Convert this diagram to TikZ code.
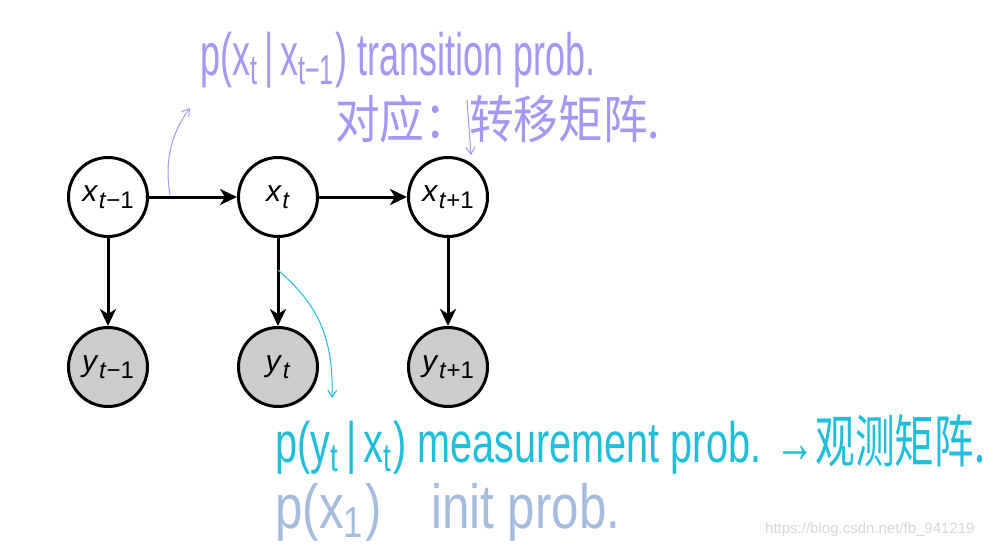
\documentclass[tikz,border=0pt]{standalone}
\usepackage{fontspec}
\setmainfont{Liberation Sans}
\newfontfamily\cjk{Noto Sans CJK SC}
\usetikzlibrary{arrows.meta}
\definecolor{hpurple}{RGB}{165,152,245}
\definecolor{hcyan}{RGB}{30,190,220}
\definecolor{hblue}{RGB}{165,188,222}
\definecolor{nodegray}{RGB}{204,204,204}
\newcommand\nlab[2]{\textit{#1}\kern0.5pt\raisebox{-0.45ex}{\fontsize{24}{24}\selectfont\textit{t}#2}}
\begin{document}
\begin{tikzpicture}[x=1pt,y=-1pt,
  hidden/.style={circle,draw=black,line width=3pt,fill=white,minimum size=79pt,inner sep=0pt,font=\fontsize{30}{30}\selectfont},
  observed/.style={hidden,fill=nodegray},
  edge/.style={line width=3pt,-{Stealth[length=17pt,width=16pt,inset=5pt]}},
  hand/.style={line width=1pt,-{Straight Barb[length=7pt,width=9pt]}},
  note/.style={anchor=west,inner sep=0pt}]
\useasboundingbox (0,0) rectangle (995,548);
\fill[white] (0,0) rectangle (995,548);
\node[hidden] (x1) at (108,197) {\nlab{x}{−1}};
\node[hidden] (x2) at (278,197) {\nlab{x}{}};
\node[hidden] (x3) at (448,197) {\nlab{x}{+1}};
\node[observed] (y1) at (108,367) {\nlab{y}{−1}};
\node[observed] (y2) at (278,367) {\nlab{y}{}};
\node[observed] (y3) at (448,367) {\nlab{y}{+1}};
\draw[edge] (x1) -- (x2);
\draw[edge] (x2) -- (x3);
\draw[edge] (x1) -- (y1);
\draw[edge] (x2) -- (y2);
\draw[edge] (x3) -- (y3);
% annotations
\node[note,text=hpurple] (t1) at (200,60) {\resizebox*{395pt}{56pt}{p(x\textsubscript{t}\,|\,x\textsubscript{t−1}) transition prob.}};
\node[note,text=hpurple] (t2) at (335,119) {\resizebox*{325pt}{48pt}{\cjk 对应：转移矩阵.}};
\node[note,text=hcyan] (t3) at (275,445) {\resizebox*{710pt}{60pt}{p(y\textsubscript{t}\,|\,x\textsubscript{t}) measurement prob. →{\cjk 观测矩阵.}}};
\node[note,text=hblue] (t4) at (275,512) {\resizebox*{345pt}{58pt}{p(x\textsubscript{1})\quad init prob.}};
\node[note,text=black!15] (wm) at (765,530) {\fontsize{15}{15}\selectfont https://blog.csdn.net/fb\_941219};
\coordinate (a1) at (170,195);
\coordinate (a1e) at (190,108);
\draw[hand,hpurple] (a1) .. controls (164,160) and (172,132) .. (a1e);
\coordinate (a2) at (467,100);
\coordinate (a2e) at (471,155);
\draw[hand,hpurple] (a2) -- (a2e);
\coordinate (a3) at (278,270);
\coordinate (a3e) at (332,398);
\draw[hand,hcyan] (a3) .. controls (312,300) and (334,330) .. (a3e);
\end{tikzpicture}
\end{document}
